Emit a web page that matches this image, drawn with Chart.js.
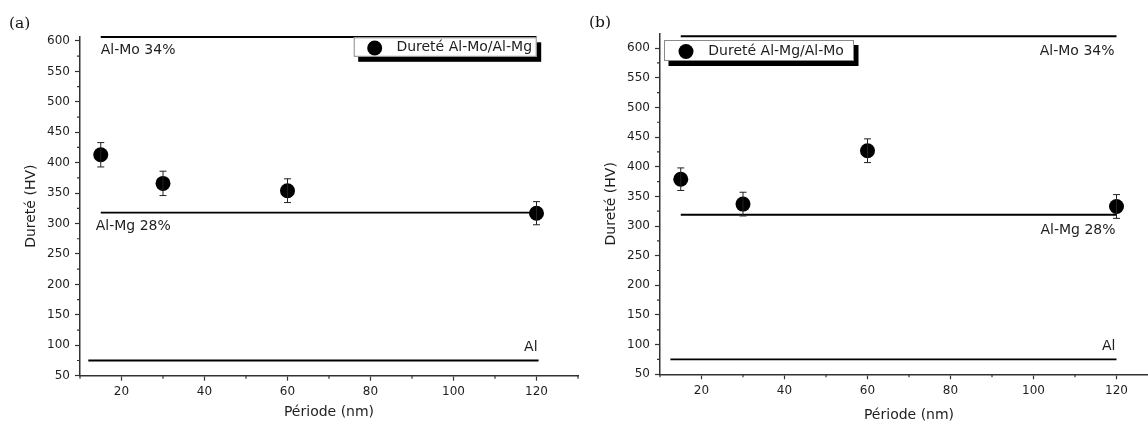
<!DOCTYPE html>
<html>
<head>
<meta charset="utf-8">
<script src="https://cdn.jsdelivr.net/npm/chart.js@4.4.0/dist/chart.umd.min.js"></script>
<style>
html,body{margin:0;padding:0;background:#fff;overflow:hidden;width:1148px;height:421px;}
canvas{position:absolute;top:0;}
.tag{position:absolute;z-index:2;font-family:"DejaVu Serif",serif;font-size:15.5px;line-height:1;color:#111;}
</style>
</head>
<body>
<canvas id="chartA" width="590" height="421" style="left:0;width:590px;height:421px"></canvas>
<canvas id="chartB" width="580" height="424" style="left:590px;width:580px;height:424px"></canvas>
<div class="tag" style="left:9px;top:16px">(a)</div>
<div class="tag" style="left:589px;top:15px">(b)</div>
<script>
var periods=[15,30,60,120];

var hardMoMg=[413,366,354,317];
var errMoMg=[20,20,19.5,19];
var hardMgMo=[379,337,427,333];
var errMgMo=[19,20,20,20];

var refNames=['Al-Mo 34%','Al-Mg 28%','Al'];
var refLevelsA=[606.5,318,75];
var refStartA=[15,15,12];
var refEndA=[120,120,120.5];
var refLevelsB=[620,319,75];
var refStartB=[15,15,12.5];
var refEndB=[120,120,120];

var xTicks=[20,40,60,80,100,120];
var xMinor=[10,30,50,70,90,110,130];
var yTicks=[50,100,150,200,250,300,350,400,450,500,550,600];
var yMinor=[75,125,175,225,275,325,375,425,475,525,575];

var axisColor='#333';
var textColor='#1e1e1e';
var sans='"DejaVu Sans", sans-serif';

function refSets(levels,starts,ends){
    return levels.map(function(v,i){
        return {
            label:refNames[i],
            data:[{x:starts[i],y:v},{x:ends[i],y:v}],
            showLine:true,
            borderColor:'#000',
            borderWidth:1.8,
            pointRadius:0,
            clip:false,
            isRef:true
        };
    });
}

function pointSet(name,vals,errs){
    return {
        label:name,
        data:periods.map(function(p,i){return {x:p,y:vals[i]};}),
        errors:errs,
        showLine:false,
        pointRadius:7.5,
        pointHoverRadius:7.5,
        pointBackgroundColor:'#000',
        pointBorderWidth:0,
        clip:false
    };
}

// error bars, drawn from the errors array of the point series
var errorBars={
    id:'errorBars',
    afterDatasetsDraw:function(chart){
        var ctx=chart.ctx,sx=chart.scales.x,sy=chart.scales.y;
        ctx.save();
        ctx.strokeStyle='#222';
        ctx.lineWidth=1;
        chart.data.datasets.forEach(function(ds){
            if(!ds.errors)return;
            ds.data.forEach(function(p,i){
                var px=sx.getPixelForValue(p.x);
                var top=sy.getPixelForValue(p.y+ds.errors[i]);
                var bot=sy.getPixelForValue(p.y-ds.errors[i]);
                ctx.beginPath();
                ctx.moveTo(px,top);ctx.lineTo(px,bot);
                ctx.moveTo(px-3.5,top);ctx.lineTo(px+3.5,top);
                ctx.moveTo(px-3.5,bot);ctx.lineTo(px+3.5,bot);
                ctx.stroke();
            });
        });
        ctx.restore();
    }
};

var minorTicks={
    id:'minorTicks',
    afterDraw:function(chart){
        var ctx=chart.ctx,a=chart.chartArea,sx=chart.scales.x,sy=chart.scales.y;
        ctx.save();
        ctx.strokeStyle=axisColor;
        ctx.lineWidth=1.2;
        ctx.beginPath();
        xMinor.forEach(function(v){
            var px=sx.getPixelForValue(v);
            ctx.moveTo(px,a.bottom);ctx.lineTo(px,a.bottom+3);
        });
        yMinor.forEach(function(v){
            var py=sy.getPixelForValue(v);
            ctx.moveTo(a.left,py);ctx.lineTo(a.left-3,py);
        });
        ctx.stroke();
        ctx.restore();
    }
};

// text next to each reference line
var refLabels={
    id:'refLabels',
    afterDatasetsDraw:function(chart,args,opts){
        var ctx=chart.ctx,sx=chart.scales.x,sy=chart.scales.y;
        ctx.save();
        ctx.font='14px '+sans;
        ctx.fillStyle=textColor;
        ctx.textBaseline='alphabetic';
        var k=0;
        chart.data.datasets.forEach(function(ds){
            if(!ds.isRef)return;
            var pl=opts.place[k++];
            var p=pl.at==='start'?ds.data[0]:ds.data[1];
            ctx.textAlign=pl.at==='start'?'left':'right';
            ctx.fillText(ds.label,sx.getPixelForValue(p.x)+pl.dx,sy.getPixelForValue(p.y)+pl.dy);
        });
        ctx.restore();
    }
};

// Origin style legend box with a drop shadow
var boxLegend={
    id:'boxLegend',
    afterDraw:function(chart,args,opts){
        var ctx=chart.ctx,a=chart.chartArea;
        var ds=chart.data.datasets.filter(function(d){return !d.isRef;})[0];
        var x=opts.side==='right'?a.right-opts.dx-opts.w:a.left+opts.dx;
        var y=a.top+opts.dy;
        ctx.save();
        ctx.fillStyle='#000';
        ctx.fillRect(x+4.5,y+5,opts.w,opts.h);
        ctx.fillStyle='#fff';
        ctx.fillRect(x,y,opts.w,opts.h);
        ctx.strokeStyle='#8a8a8a';
        ctx.lineWidth=1;
        ctx.strokeRect(x+0.5,y+0.5,opts.w-1,opts.h-1);
        ctx.fillStyle='#000';
        ctx.beginPath();
        ctx.arc(x+opts.mx,y+opts.h/2+1,ds.pointRadius,0,Math.PI*2);
        ctx.fill();
        ctx.font='14px '+sans;
        ctx.fillStyle=textColor;
        ctx.textAlign='left';
        ctx.textBaseline='middle';
        ctx.fillText(ds.label,x+opts.tx,y+opts.h/2+0.5);
        ctx.restore();
    }
};

function makeChart(id,sets,cfg){
    return new Chart(document.getElementById(id),{
        type:'scatter',
        data:{datasets:sets},
        plugins:[errorBars,minorTicks,refLabels,boxLegend],
        options:{
            responsive:false,
            animation:false,
            devicePixelRatio:1,
            events:[],
            layout:{padding:{left:0,right:12,top:cfg.top,bottom:0}},
            plugins:{
                legend:{display:false},
                tooltip:{enabled:false},
                refLabels:{place:cfg.place},
                boxLegend:cfg.legend
            },
            scales:{
                x:{
                    type:'linear',min:10,max:130,
                    border:{color:axisColor,width:1.5},
                    grid:{drawOnChartArea:false,tickLength:5,tickColor:axisColor,tickWidth:1.2},
                    ticks:{font:{family:sans,size:12},color:textColor,padding:4,autoSkip:false,maxRotation:0},
                    afterBuildTicks:function(s){s.ticks=xTicks.map(function(v){return {value:v};});},
                    afterFit:function(s){s.height=cfg.xh;},
                    title:{display:true,text:'Période (nm)',font:{family:sans,size:14},color:textColor,padding:0}
                },
                y:{
                    type:'linear',min:50,max:cfg.ymax,
                    border:{color:axisColor,width:1.5},
                    grid:{drawOnChartArea:false,tickLength:5,tickColor:axisColor,tickWidth:1.2},
                    ticks:{font:{family:sans,size:12},color:textColor,padding:5,autoSkip:false},
                    afterBuildTicks:function(s){s.ticks=yTicks.map(function(v){return {value:v};});},
                    afterFit:function(s){s.width=cfg.yw;},
                    title:{display:true,text:'Dureté (HV)',font:{family:sans,size:14},color:textColor,padding:{top:cfg.tpad,bottom:0}}
                }
            }
        }
    });
}

makeChart('chartA',
    refSets(refLevelsA,refStartA,refEndA).concat([pointSet('Dureté Al-Mo/Al-Mg',hardMoMg,errMoMg)]),
    {top:36.7,xh:45.3,yw:80,tpad:23,ymax:607,
     place:[{at:'start',dx:0,dy:17},{at:'start',dx:-5,dy:17.5},{at:'end',dx:-1,dy:-9.5}],
     legend:{side:'right',dx:41.3,dy:0.6,w:183,h:19.5,mx:21,tx:42.7}});

makeChart('chartB',
    refSets(refLevelsB,refStartB,refEndB).concat([pointSet('Dureté Al-Mg/Al-Mo',hardMgMo,errMgMo)]),
    {top:33.3,xh:49.7,yw:70,tpad:13,ymax:625,
     place:[{at:'end',dx:-2,dy:18.5},{at:'end',dx:-1,dy:19.5},{at:'end',dx:-1,dy:-9.3}],
     legend:{side:'left',dx:4,dy:6.7,w:190,h:21,mx:22,tx:44.3}});
</script>
</body>
</html>
